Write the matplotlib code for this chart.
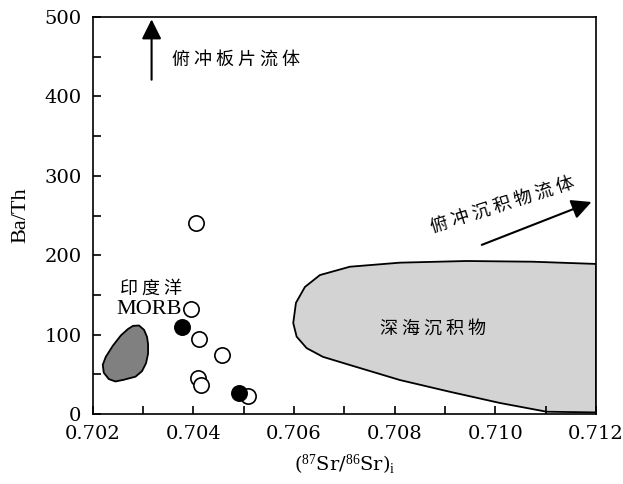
import numpy as np
import matplotlib
matplotlib.use("Agg")
import matplotlib.pyplot as plt
from matplotlib.patches import Polygon

plt.rcParams['font.family'] = ['DejaVu Serif']
plt.rcParams['mathtext.fontset'] = 'custom'
plt.rcParams['mathtext.rm'] = 'Liberation Serif'
plt.rcParams['mathtext.it'] = 'Liberation Serif:italic'

cjk = ['Noto Sans CJK SC', 'DejaVu Sans']

# samples
open_sr = [0.70405, 0.70396, 0.70411, 0.70457, 0.70410, 0.70415, 0.70508]
open_ba = [240, 132, 95, 74, 45, 36, 23]
filled_sr = [0.70378, 0.70491]
filled_ba = [109, 27]

# Indian Ocean MORB field outline
morb_sr = [0.70280, 0.70292, 0.70302, 0.70308, 0.70310, 0.70310, 0.70306,
           0.70298, 0.70285, 0.70261, 0.70245, 0.70232, 0.70222, 0.70220,
           0.70226, 0.70240, 0.70256, 0.70270]
morb_ba = [111, 111.5, 106, 97, 88, 76, 64, 54, 47, 43, 41, 44, 52, 62,
           72, 86, 99, 107]

# pelagic sediment field outline
sed_sr = [0.71200, 0.71200, 0.710745, 0.709428, 0.708103, 0.70711, 0.706514,
          0.706216, 0.706038, 0.705984, 0.706052, 0.70625, 0.706574, 0.70711,
          0.708103, 0.709096, 0.71009, 0.711017]
sed_ba = [2, 189, 191.8, 192.7, 190.6, 185.5, 175, 160, 140, 114.6, 97.4, 83,
          72, 61.7, 42.8, 28, 13.9, 2.9]

x_major = [0.702, 0.704, 0.706, 0.708, 0.710, 0.712]
x_labels = ['0.702', '0.704', '0.706', '0.708', '0.710', '0.712']
y_major = [0, 100, 200, 300, 400, 500]


def spaced(s, n=1):
    return (' ' * n).join(s)


fig = plt.figure(figsize=(6.23, 4.84), dpi=100)
ax = fig.add_axes([0.1488, 0.1446, 0.8079, 0.8203])

ax.add_patch(Polygon(np.column_stack([sed_sr, sed_ba]), closed=True,
                     facecolor='#d3d3d3', edgecolor='black', lw=1.3,
                     joinstyle='round', zorder=1))
ax.add_patch(Polygon(np.column_stack([morb_sr, morb_ba]), closed=True,
                     facecolor='#808080', edgecolor='black', lw=1.3,
                     joinstyle='round', zorder=1))

for sx, sy in zip(open_sr, open_ba):
    ax.plot(sx, sy, 'o', ms=11, mfc='white', mec='black', mew=1.2, zorder=3)
ax.plot(filled_sr, filled_ba, 'o', ms=11, mfc='black', mec='black',
        mew=1.2, ls='none', zorder=4)

ax.set_xlim(0.702, 0.712)
ax.set_ylim(0, 500)
ax.set_xticks(x_major)
ax.set_xticklabels(x_labels)
ax.set_xticks(np.arange(0.703, 0.712, 0.002), minor=True)
ax.set_yticks(y_major)
ax.set_yticks(np.arange(50, 500, 100), minor=True)
ax.tick_params(which='both', direction='in', top=False, right=False,
               labelsize=14, width=1.2, length=6)
ax.tick_params(axis='x', pad=8)
ax.tick_params(axis='y', pad=8)
for sp in ax.spines.values():
    sp.set_linewidth(1.2)

ax.set_xlabel(r'($^{87}$Sr/$^{86}$Sr)$_{\rm i}$', fontsize=14, labelpad=7)
ax.set_ylabel('Ba/Th', fontsize=16, family='Liberation Serif', labelpad=10)

head = '-|>,head_length=0.6,head_width=0.3'
ax.annotate('', xy=(0.70317, 497), xytext=(0.70317, 421),
            arrowprops=dict(arrowstyle=head, mutation_scale=20, lw=1.5,
                            color='black', shrinkA=0, shrinkB=0))
ax.annotate('', xy=(0.71191, 267), xytext=(0.70973, 213),
            arrowprops=dict(arrowstyle=head, mutation_scale=20, lw=1.5,
                            color='black', shrinkA=0, shrinkB=0))

ax.text(0.70358, 446, spaced('俯冲板片流体'), family=cjk, fontsize=13,
        ha='left', va='center')
ax.text(0.71015, 263, spaced('俯冲沉积物流体'), family=cjk, fontsize=13,
        ha='center', va='center', rotation=17.7, rotation_mode='anchor')
ax.text(0.708769, 108, spaced('深海沉积物'), family=cjk, fontsize=13,
        ha='center', va='center')
ax.text(0.70315, 158, spaced('印度洋'), family=cjk, fontsize=13,
        ha='center', va='center')
ax.text(0.70313, 131, 'MORB', fontsize=16, family='Liberation Serif',
        ha='center', va='center')

fig.savefig('out.png', dpi=100)
